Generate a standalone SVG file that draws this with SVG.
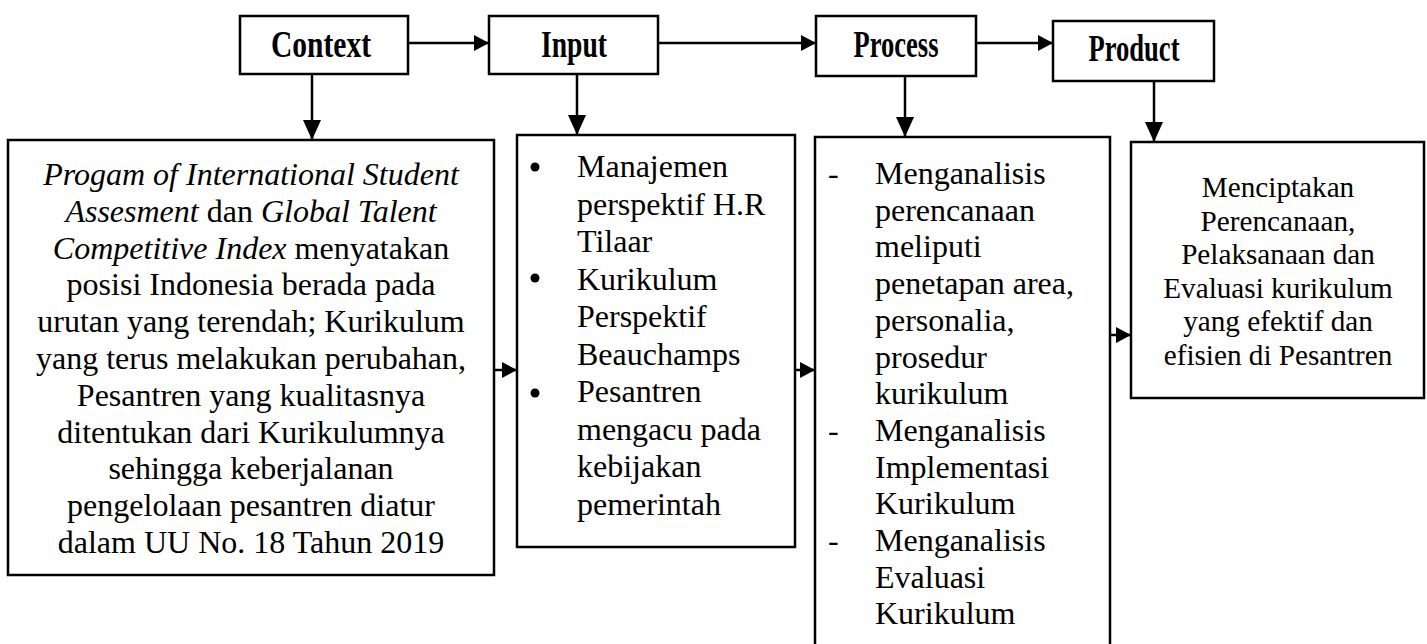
<svg xmlns="http://www.w3.org/2000/svg" width="1427" height="644" viewBox="0 0 1427 644">
<style>
.box{fill:none;stroke:#000;stroke-width:2.5}
.lbl{font-family:"Liberation Serif","Times New Roman",serif;font-weight:bold;font-size:38px;fill:#000;text-anchor:middle}
.t{font-family:"Liberation Serif","Times New Roman",serif;font-size:32px;fill:#000}
.c{text-anchor:middle}
.p{font-family:"Liberation Serif","Times New Roman",serif;font-size:29.2px;fill:#000;text-anchor:middle}
.i{font-style:italic}
.con{fill:none;stroke:#000;stroke-width:2.5}
</style>
<defs>
<marker id="ah" markerUnits="userSpaceOnUse" markerWidth="16" markerHeight="18" refX="15" refY="8" orient="auto">
<path d="M0,0 L15,8 L0,16 Z" fill="#000"/>
</marker>
<marker id="av" markerUnits="userSpaceOnUse" markerWidth="22" markerHeight="20" refX="20" refY="9" orient="auto">
<path d="M0,0 L20,9 L0,18 Z" fill="#000"/>
</marker>
</defs>
<rect width="1427" height="644" fill="#fff"/>

<g id="connectors">
<path class="con" d="M408,43 L489,43" marker-end="url(#ah)"/>
<path class="con" d="M658,43 L816,43" marker-end="url(#ah)"/>
<path class="con" d="M976,43 L1053,43" marker-end="url(#ah)"/>
<path class="con" d="M312,74 L312,140" marker-end="url(#av)"/>
<path class="con" d="M577,74 L577,135" marker-end="url(#av)"/>
<path class="con" d="M905,76 L905,137" marker-end="url(#av)"/>
<path class="con" d="M1154,81 L1154,142" marker-end="url(#av)"/>
<path class="con" d="M494,370 L517,370" marker-end="url(#ah)"/>
<path class="con" d="M795,370 L815,370" marker-end="url(#ah)"/>
<path class="con" d="M1110,335 L1131,335" marker-end="url(#ah)"/>
</g>

<g id="context">
<rect class="box" x="240" y="16" width="168" height="58"/>
<text class="lbl" x="321" y="57" textLength="100" lengthAdjust="spacingAndGlyphs">Context</text>
</g>
<g id="input">
<rect class="box" x="489" y="16" width="169" height="58"/>
<text class="lbl" x="574" y="57" textLength="66" lengthAdjust="spacingAndGlyphs">Input</text>
</g>
<g id="process">
<rect class="box" x="816" y="16" width="160" height="60"/>
<text class="lbl" x="896" y="57" textLength="85" lengthAdjust="spacingAndGlyphs">Process</text>
</g>
<g id="product">
<rect class="box" x="1053" y="21" width="161" height="60"/>
<text class="lbl" x="1134" y="61" textLength="91" lengthAdjust="spacingAndGlyphs">Product</text>
</g>

<g id="context-detail">
<rect class="box" x="8" y="140" width="486" height="435"/>
<text class="t c" x="251" y="185"><tspan class="i">Progam of International Student</tspan></text>
<text class="t c" x="251" y="221.8"><tspan class="i">Assesment</tspan> dan <tspan class="i">Global Talent</tspan></text>
<text class="t c" x="251" y="258.6"><tspan class="i">Competitive Index</tspan> menyatakan</text>
<text class="t c" x="251" y="295.4">posisi Indonesia berada pada</text>
<text class="t c" x="251" y="332.2">urutan yang terendah; Kurikulum</text>
<text class="t c" x="251" y="369">yang terus melakukan perubahan,</text>
<text class="t c" x="251" y="405.8">Pesantren yang kualitasnya</text>
<text class="t c" x="251" y="442.6">ditentukan dari Kurikulumnya</text>
<text class="t c" x="251" y="479.4">sehingga keberjalanan</text>
<text class="t c" x="251" y="516.2">pengelolaan pesantren diatur</text>
<text class="t c" x="251" y="553">dalam UU No. 18 Tahun 2019</text>
</g>

<g id="input-detail">
<rect class="box" x="517" y="135" width="278" height="412"/>
<circle cx="535" cy="167" r="4.5"/>
<circle cx="535" cy="278" r="4.5"/>
<circle cx="535" cy="393" r="4.5"/>
<text class="t" x="577" y="177">Manajemen</text>
<text class="t" x="577" y="214.5">perspektif H.R</text>
<text class="t" x="577" y="252">Tilaar</text>
<text class="t" x="577" y="289.5">Kurikulum</text>
<text class="t" x="577" y="327">Perspektif</text>
<text class="t" x="577" y="364.5">Beauchamps</text>
<text class="t" x="577" y="402">Pesantren</text>
<text class="t" x="577" y="439.5">mengacu pada</text>
<text class="t" x="577" y="477">kebijakan</text>
<text class="t" x="577" y="514.5">pemerintah</text>
</g>

<g id="process-detail">
<rect class="box" x="815" y="137" width="295" height="520"/>
<text class="t" x="828" y="184">-</text>
<text class="t" x="828" y="440.9">-</text>
<text class="t" x="828" y="551">-</text>
<text class="t" x="875" y="184">Menganalisis</text>
<text class="t" x="875" y="220.7">perencanaan</text>
<text class="t" x="875" y="257.4">meliputi</text>
<text class="t" x="875" y="294.1">penetapan area,</text>
<text class="t" x="875" y="330.8">personalia,</text>
<text class="t" x="875" y="367.5">prosedur</text>
<text class="t" x="875" y="404.2">kurikulum</text>
<text class="t" x="875" y="440.9">Menganalisis</text>
<text class="t" x="875" y="477.6">Implementasi</text>
<text class="t" x="875" y="514.3">Kurikulum</text>
<text class="t" x="875" y="551">Menganalisis</text>
<text class="t" x="875" y="587.7">Evaluasi</text>
<text class="t" x="875" y="624.4">Kurikulum</text>
</g>

<g id="product-detail">
<rect class="box" x="1131" y="142" width="293" height="256"/>
<text class="p" x="1278" y="197">Menciptakan</text>
<text class="p" x="1278" y="230.6">Perencanaan,</text>
<text class="p" x="1278" y="264.2">Pelaksanaan dan</text>
<text class="p" x="1278" y="297.8">Evaluasi kurikulum</text>
<text class="p" x="1278" y="331.4">yang efektif dan</text>
<text class="p" x="1278" y="365">efisien di Pesantren</text>
</g>
</svg>
